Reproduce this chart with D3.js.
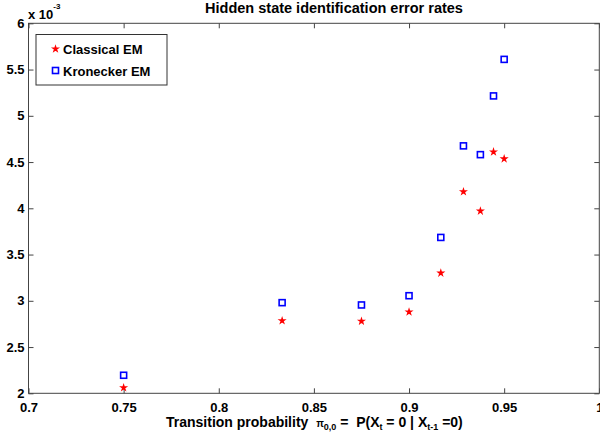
<!DOCTYPE html>
<html><head><meta charset="utf-8">
<script src="https://cdn.jsdelivr.net/npm/d3@7"></script>
<style>body{margin:0;background:#fff}svg{display:block}text{font-family:"Liberation Sans",Arial,sans-serif;font-weight:bold;white-space:pre}</style>
</head><body><svg id="c" width="600" height="439"></svg>
<script>
const xValues = [0.75, 0.8333, 0.875, 0.9, 0.9167, 0.9286, 0.9375, 0.9444, 0.95];
const classicalEM = [2.06, 2.785, 2.78, 2.88, 3.30, 4.18, 3.97, 4.61, 4.535];
const kroneckerEM = [2.195, 2.98, 2.955, 3.055, 3.685, 4.675, 4.58, 5.215, 5.61];
const xTicks = [0.7, 0.75, 0.8, 0.85, 0.9, 0.95, 1];
const xTickLabels = ["0.7", "0.75", "0.8", "0.85", "0.9", "0.95", "1"];
const yTicks = [2, 2.5, 3, 3.5, 4, 4.5, 5, 5.5, 6];
const yTickLabels = ["2", "2.5", "3", "3.5", "4", "4.5", "5", "5.5", "6"];
const seriesNames = ["Classical EM", "Kronecker EM"];

const svg = d3.select("#c");
const L = 28.5, R = 599.3, T = 23.3, B = 393.3;
const x = d3.scaleLinear().domain([0.7, 1]).range([L, R]);
const y = d3.scaleLinear().domain([2, 6]).range([B, T]);
const axisCol = "#444";

// box
svg.append("rect").attr("x", L).attr("y", T).attr("width", R - L).attr("height", B - T)
  .attr("fill", "none").attr("stroke", axisCol).attr("stroke-width", 1);

function styleAxis(g) {
  g.select(".domain").remove();
  g.selectAll(".tick line").attr("stroke", axisCol);
  g.selectAll(".tick text").attr("fill", "#000").attr("font-size", "13px").attr("font-weight", "bold");
}
const fmtX = (d, i) => xTickLabels[i];
const fmtY = (d, i) => yTickLabels[i];
svg.append("g").attr("transform", `translate(0,${B})`)
  .call(d3.axisBottom(x).tickValues(xTicks).tickFormat(fmtX).tickSizeInner(-5).tickPadding(9))
  .call(styleAxis);
svg.append("g").attr("transform", `translate(0,${T})`)
  .call(d3.axisTop(x).tickValues(xTicks).tickFormat("").tickSizeInner(-5))
  .call(styleAxis);
svg.append("g").attr("transform", `translate(${L},0)`)
  .call(d3.axisLeft(y).tickValues(yTicks).tickFormat(fmtY).tickSizeInner(-5).tickPadding(4))
  .call(styleAxis);
svg.append("g").attr("transform", `translate(${R},0)`)
  .call(d3.axisRight(y).tickValues(yTicks).tickFormat("").tickSizeInner(-5))
  .call(styleAxis);

// multiplier
const m = svg.append("text").attr("x", 28).attr("y", 18.5).attr("font-size", "13px");
m.append("tspan").text("x 10");
m.append("tspan").attr("dy", -10).attr("font-size", "8px").text("-3");

// title
svg.append("text").attr("x", 334).attr("y", 13).attr("text-anchor", "middle")
  .attr("font-size", "14.5px").text("Hidden state identification error rates");

// x label
const xl = svg.append("text").attr("x", 166).attr("y", 427).attr("font-size", "14px");
xl.append("tspan").text("Transition probability  ");
xl.append("tspan").attr("font-size", "10px").attr("dy", 0).text("π");
xl.append("tspan").attr("font-size", "9px").attr("dy", 3).text("0,0");
xl.append("tspan").attr("dy", -3).text(" =  P(X");
xl.append("tspan").attr("font-size", "9px").attr("dy", 3).text("t");
xl.append("tspan").attr("dy", -3).text(" = 0 | X");
xl.append("tspan").attr("font-size", "9px").attr("dy", 3).text("t-1");
xl.append("tspan").attr("dy", -3).text(" =0)");

// markers
const star = d3.symbol().type(d3.symbolStar).size(7);
function drawRed(g, cx, cy) {
  g.append("path").attr("d", star()).attr("transform", `translate(${cx},${cy})`)
    .attr("fill", "#f00").attr("stroke", "#f00").attr("stroke-width", 1.4);
}
function drawBlue(g, cx, cy) {
  g.append("rect").attr("x", cx - 3).attr("y", cy - 3).attr("width", 6).attr("height", 6)
    .attr("fill", "none").attr("stroke", "#00f").attr("stroke-width", 1.6);
}
const pts = svg.append("g");
xValues.forEach((xv, i) => {
  drawRed(pts, x(xv), y(classicalEM[i]));
  drawBlue(pts, x(xv), y(kroneckerEM[i]));
});

// legend
const lg = svg.append("g");
lg.append("rect").attr("x", 36).attr("y", 34.5).attr("width", 131).attr("height", 50.5)
  .attr("fill", "#fff").attr("stroke", "#333").attr("stroke-width", 1);
drawRed(lg, 55.5, 49);
drawBlue(lg, 55.5, 70.5);
lg.append("text").attr("x", 63).attr("y", 54).attr("font-size", "13px").text(seriesNames[0]);
lg.append("text").attr("x", 63).attr("y", 75.5).attr("font-size", "13px").text(seriesNames[1]);
</script></body></html>
